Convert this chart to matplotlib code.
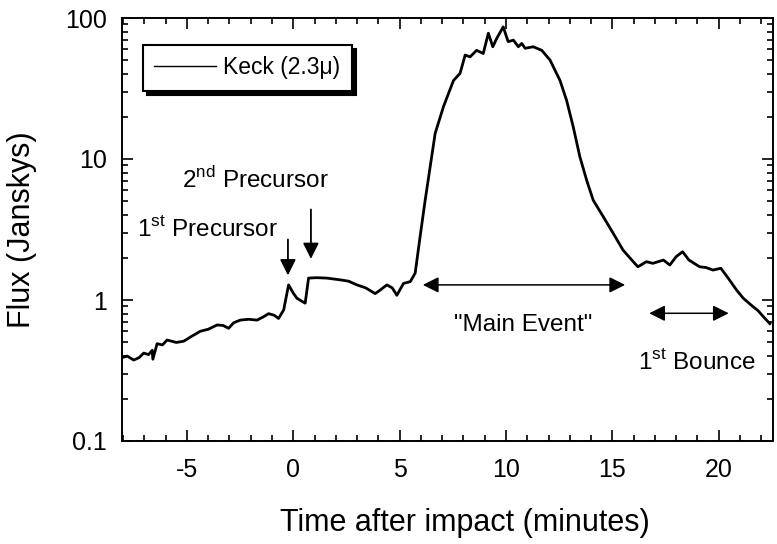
import numpy as np
import matplotlib
matplotlib.use("Agg")
import matplotlib.pyplot as plt
from matplotlib.ticker import LogLocator, NullFormatter

plt.rcParams['font.family'] = ['Liberation Sans', 'DejaVu Sans']
plt.rcParams['mathtext.fontset'] = 'custom'
plt.rcParams['mathtext.rm'] = 'Liberation Sans'
plt.rcParams['axes.unicode_minus'] = False

# Keck 2.3 micron light curve
time_min = [-8.05, -7.8, -7.5, -7.25, -7.03, -6.8, -6.63, -6.6, -6.4, -6.15, -5.93,
            -5.5, -5.15, -4.8, -4.37, -4.0, -3.58, -3.3, -3.04, -2.8, -2.49, -2.1,
            -1.7, -1.4, -1.16, -0.9, -0.69, -0.45, -0.22, 0.0, 0.17, 0.4, 0.56,
            0.72, 1.1, 1.58, 2.2, 2.6, 2.99, 3.4, 3.85, 4.1, 4.4, 4.65, 4.87,
            5.18, 5.5, 5.73, 5.96, 6.2, 6.67, 7.06, 7.53, 7.84, 8.08, 8.31, 8.62,
            8.93, 9.17, 9.38, 9.56, 9.87, 10.1, 10.35, 10.58, 10.74, 10.9, 11.28,
            11.68, 12.07, 12.54, 12.85, 13.16, 13.47, 13.8, 14.1, 14.57, 15.04,
            15.5, 15.98, 16.2, 16.6, 16.9, 17.4, 17.7, 18.0, 18.3, 18.6, 19.1,
            19.4, 19.73, 20.1, 20.5, 20.83, 21.15, 21.6, 21.85, 22.1, 22.4]
flux_jy = [0.39, 0.40, 0.375, 0.39, 0.42, 0.41, 0.44, 0.38, 0.49, 0.48, 0.52,
           0.50, 0.51, 0.55, 0.60, 0.62, 0.665, 0.66, 0.63, 0.69, 0.72, 0.73,
           0.72, 0.76, 0.80, 0.78, 0.74, 0.85, 1.28, 1.12, 1.03, 0.98, 0.95,
           1.43, 1.44, 1.43, 1.39, 1.36, 1.28, 1.22, 1.11, 1.18, 1.28, 1.22, 1.08,
           1.31, 1.35, 1.55, 2.8, 5.1, 15.2, 23.5, 36.0, 40.5, 54.6, 53.0, 59.0,
           56.0, 78.0, 62.5, 71.5, 86.5, 68.0, 69.6, 62.5, 66.0, 61.0, 62.5,
           59.0, 50.3, 36.0, 26.0, 16.9, 10.4, 7.0, 5.1, 3.9, 2.97,
           2.26, 1.87, 1.72, 1.87, 1.82, 1.92, 1.77, 2.03, 2.2, 1.92, 1.72,
           1.70, 1.63, 1.68, 1.39, 1.18, 1.03, 0.90, 0.84, 0.76, 0.68]

# annotation positions in data units
main_event_span = (5.96, 15.73)
main_event_level = 1.28
bounce_span = (16.6, 20.6)
bounce_level = 0.805
precursor_arrows = {'1st': (-0.25, 2.81, 1.43), '2nd': (0.83, 4.59, 1.87)}

fig = plt.figure(figsize=(7.77, 5.44), dpi=100)
ax = fig.add_axes([122 / 777, 1 - 441 / 544, (773 - 122) / 777, (441 - 18) / 544])

line, = ax.plot(time_min, flux_jy, color='black', lw=2.0, label='Keck (2.3μ)')

ax.set_yscale('log')
ax.set_xlim(-8.05, 22.55)
ax.set_ylim(0.1, 100)
ax.set_xticks([-5, 0, 5, 10, 15, 20])
ax.set_xticks(np.arange(-8, 23, 1), minor=True)
ax.set_yticks([0.1, 1, 10, 100])
ax.set_yticklabels(['0.1', '1', '10', '100'])
ax.yaxis.set_minor_locator(LogLocator(base=10, subs=np.arange(2, 10), numticks=20))
ax.yaxis.set_minor_formatter(NullFormatter())

ax.tick_params(which='both', direction='in', top=True, right=True, width=1.2,
               labelsize=18)
ax.tick_params(axis='y', which='both', pad=11)
ax.tick_params(axis='x', which='both', pad=12)
ax.tick_params(which='major', length=8)
ax.tick_params(which='minor', length=4)
for s in ax.spines.values():
    s.set_linewidth(1.4)

ax.set_xlabel('Time after impact (minutes)', fontsize=22)
ax.set_ylabel('Flux (Janskys)', fontsize=22)
ax.xaxis.set_label_coords(0.527, -0.158)
ax.yaxis.set_label_coords(-0.131, 0.5)

# precursor arrows and labels
for key, (t, y0, y1) in precursor_arrows.items():
    ax.annotate('', xy=(t, y1), xytext=(t, y0),
                arrowprops=dict(arrowstyle='-|>', color='black', lw=1.3,
                                mutation_scale=24))
ax.text(-4.05, 3.22, r'1$^{\rm st}$ Precursor', fontsize=17.5, ha='center', va='center')
ax.text(-1.78, 7.1, r'2$^{\rm nd}$ Precursor', fontsize=17.5, ha='center', va='center')

# double arrows
ax.annotate('', xy=(main_event_span[0], main_event_level),
            xytext=(main_event_span[1], main_event_level),
            arrowprops=dict(arrowstyle='<|-|>', color='black', lw=1.1,
                            mutation_scale=24))
ax.text(10.8, 0.665, '"Main Event"', fontsize=17.5, ha='center', va='center')
ax.annotate('', xy=(bounce_span[0], bounce_level),
            xytext=(bounce_span[1], bounce_level),
            arrowprops=dict(arrowstyle='<|-|>', color='black', lw=1.1,
                            mutation_scale=24))
ax.text(18.95, 0.365, r'1$^{\rm st}$ Bounce', fontsize=17.5, ha='center', va='center')

leg = ax.legend(loc='upper left', bbox_to_anchor=(21 / 651, 1 - 27 / 423),
                fontsize=16.5, frameon=True, fancybox=False,
                shadow={'color': 'black', 'alpha': 1, 'ox': 3, 'oy': -3},
                handlelength=2.7, handletextpad=0.3, borderpad=0.5,
                borderaxespad=0, edgecolor='black', framealpha=1)
leg.get_frame().set_linewidth(1.5)
for h in leg.get_lines():
    h.set_linewidth(1.0)

fig.savefig('out.png', dpi=100)
